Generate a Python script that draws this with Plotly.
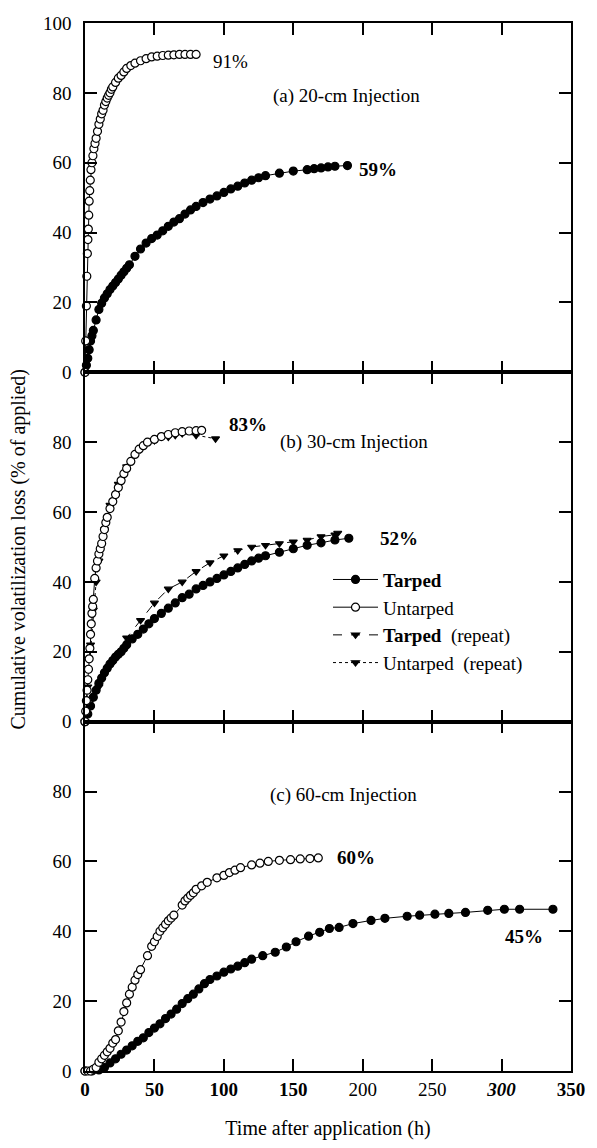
import plotly.graph_objects as go
from plotly.subplots import make_subplots

# ---------------- data ----------------
# (a) 20-cm injection
a_untarped_t = [0, 0.5, 1, 1.3, 1.7, 2.1, 2.4, 2.7, 3, 3.4, 3.8, 4.3, 5, 5.7, 6.4, 7.2, 8, 9, 10, 11, 12, 13, 14, 15,
                16, 17, 18, 19, 20, 22, 24, 26, 28, 30, 33, 36, 40, 44, 48, 52, 56, 60, 64, 68, 72, 76, 80]
a_untarped_y = [0, 9, 19, 27.5, 34, 38, 41, 45, 49, 52, 55, 58, 60, 62, 64, 65.5, 67, 69, 71, 72.5, 74, 75, 76.5,
                77.5, 78.5, 79.3, 80, 81, 81.7, 83, 84.2, 85, 86, 87, 87.8, 88.5, 89.2, 89.8, 90.3, 90.5, 90.7, 90.8,
                90.9, 91, 91, 91, 91]
a_tarped_t = [0, 1, 2, 3, 4, 5, 6, 8, 10, 12, 14, 16, 18, 20, 22, 24, 26, 28, 30, 32, 36, 40, 44, 48, 52, 56, 60,
              64, 68, 72, 76, 80, 85, 90, 95, 100, 105, 110, 115, 120, 125, 130, 140, 150, 160, 165, 170, 175, 180, 189]
a_tarped_y = [0, 2, 4, 6.5, 9, 10.5, 12, 15, 18, 19.8, 21.3, 22.5, 23.7, 24.7, 25.7, 26.7, 27.8, 28.8, 29.8, 30.8,
              33.2, 35.3, 37, 38.3, 39.3, 40.5, 41.8, 43, 44, 45.3, 46.5, 47.5, 48.6, 49.6, 50.5, 51.5, 52.5, 53.3,
              54.2, 55, 55.7, 56.3, 57, 57.6, 58, 58.3, 58.5, 58.8, 59, 59.2]

# (b) 30-cm injection
b_untarped_t = [0, 0.5, 1, 1.5, 2, 2.5, 3, 3.5, 4, 4.5, 5, 5.5, 6, 7, 8, 9, 10, 11, 12, 13, 14, 15, 16, 18, 20, 22,
                24, 26, 28, 30, 33, 36, 39, 42, 45, 50, 55, 60, 65, 70, 75, 80, 84]
b_untarped_y = [0, 3, 6, 9, 12, 15, 18, 21, 25, 28, 31, 33, 35, 41, 44, 46, 48, 49.5, 51, 53, 55, 57, 58.5, 61,
                63, 65, 67, 69, 71, 72.5, 74.5, 76.5, 78, 79, 80, 80.8, 81.6, 82.2, 82.7, 83, 83.2, 83.3, 83.4]
b_untarped_rep_t = [0, 2, 4, 6, 8, 10, 14, 18, 24, 30, 40, 50, 60, 65, 70, 80, 94]
b_untarped_rep_y = [0, 10, 22, 32, 40, 46, 55, 62, 68, 73, 78, 80.5, 81.5, 82, 82.5, 82, 81]
b_tarped_t = [0, 2, 4, 6, 8, 10, 12, 14, 16, 18, 20, 22, 24, 26, 28, 30, 34, 38, 42, 46, 50, 55, 60, 65, 70, 75,
              80, 85, 90, 95, 100, 105, 110, 115, 120, 125, 130, 140, 150, 160, 170, 180, 190]
b_tarped_y = [0, 2.2, 4.5, 7, 9, 11, 12.5, 14, 15.3, 16.5, 17.5, 18.5, 19.3, 20, 21, 22, 23.7, 25, 26.5, 28, 29.5,
              31, 32.5, 34, 35.5, 36.5, 38, 39, 40, 41, 42, 43, 44, 45, 46, 46.8, 47.5, 48.5, 49.5, 50.5, 51.2, 52,
              52.5]
b_tarped_rep_t = [0, 10, 20, 30, 40, 50, 60, 70, 80, 90, 100, 110, 120, 130, 140, 150, 160, 170, 180, 182]
b_tarped_rep_y = [0, 10, 17, 24, 29, 34, 38, 40, 43, 45.5, 47.5, 49, 50, 50.5, 51, 51.5, 52, 53, 53.5, 54]

# (c) 60-cm injection
c_untarped_t = [0, 2, 4, 6, 8, 10, 12, 14, 16, 18, 20, 22, 24, 26, 28, 30, 32, 34, 36, 38, 40, 45, 48, 50, 52, 54,
                56, 58, 60, 62, 64, 70, 72, 74, 76, 78, 80, 84, 88, 95, 100, 104, 108, 112, 120, 126, 132, 140,
                148, 155, 162, 168]
c_untarped_y = [0, 0, 0, 0.5, 1, 2.5, 3.5, 4.5, 5.5, 6.5, 8, 9, 11.5, 14, 17, 19.5, 22, 24, 26, 27.6, 29, 33, 35.7,
                37, 38.5, 40, 41, 42, 43, 43.8, 44.6, 47.5, 48.7, 49.5, 50.3, 51, 52, 53, 54, 55.3, 56, 56.8, 57.5,
                58.2, 59, 59.5, 60, 60.3, 60.5, 60.7, 60.8, 61]
c_tarped_t = [0, 5, 10, 14, 18, 22, 26, 30, 34, 38, 42, 46, 50, 54, 58, 62, 66, 70, 74, 78, 82, 86, 90, 95, 100,
              105, 110, 115, 120, 128, 137, 145, 152, 161, 169, 176, 183, 193, 206, 216, 232, 241, 252, 262, 274,
              290, 302, 313, 337]
c_tarped_y = [0, 0, 0.3, 1, 2.3, 3.5, 4.8, 6, 7.2, 8.5, 9.5, 11, 12.3, 13.5, 15, 16.3, 17.7, 19.3, 20.7, 22, 23.5,
              25, 26.2, 27.2, 28.3, 29.2, 30, 31, 32, 33, 34, 35.5, 37, 38.6, 39.7, 40.8, 41.1, 42.2, 43.1, 43.7,
              44.3, 44.6, 44.9, 45.1, 45.4, 46, 46.3, 46.3, 46.3]

x_tickvals = [0, 50, 100, 150, 200, 250, 300, 350]
x_ticktext = ["<b>0</b>", "<b>50</b>", "<b>100</b>", "<b>150</b>", "200", "250", "<b><i>300</i></b>", "<b>350</b>"]
y_tickvals_top = [0, 20, 40, 60, 80, 100]
y_tickvals = [0, 20, 40, 60, 80]

FONT = "'Liberation Serif', 'Times New Roman', serif"
BLACK = "black"

fig = make_subplots(rows=3, cols=1, shared_xaxes=True, vertical_spacing=0)


def add_series(row, t, y, symbol, dash, name, legend, filled=True, size=8, rank=None):
    fig.add_trace(go.Scatter(
        x=t, y=y, mode="lines+markers", name=name, showlegend=legend, cliponaxis=False,
        legendrank=rank if rank is not None else 1000,
        line=dict(color=BLACK, width=1, dash=dash),
        marker=dict(symbol=symbol, size=size, color=BLACK if filled else "white",
                    line=dict(color=BLACK, width=1.2)),
    ), row=row, col=1)


add_series(1, a_tarped_t, a_tarped_y, "circle", "solid", "a-t", False)
add_series(1, a_untarped_t, a_untarped_y, "circle", "solid", "a-u", False, filled=False)

add_series(2, b_tarped_t, b_tarped_y, "circle", "solid", "<b>Tarped</b>", True, rank=1)
add_series(2, b_tarped_rep_t, b_tarped_rep_y, "triangle-down", "dash", "<b>Tarped</b>  (repeat)", True, size=7,
           rank=3)
add_series(2, b_untarped_rep_t, b_untarped_rep_y, "triangle-down", "dot", "Untarped  (repeat)", True, size=7,
           rank=4)
add_series(2, b_untarped_t, b_untarped_y, "circle", "solid", "Untarped", True, filled=False, rank=2)

add_series(3, c_tarped_t, c_tarped_y, "circle", "solid", "c-t", False)
add_series(3, c_untarped_t, c_untarped_y, "circle", "solid", "c-u", False, filled=False)

for r in (1, 2, 3):
    fig.update_xaxes(range=[0, 350], tickvals=x_tickvals, ticktext=x_ticktext, ticks="inside", ticklen=12,
                     tickwidth=2, tickcolor=BLACK, showline=True, linewidth=1.6, linecolor=BLACK, mirror="ticks",
                     showgrid=False, zeroline=False, row=r, col=1,
                     tickfont=dict(family=FONT, size=19, color=BLACK))
    fig.update_yaxes(range=[0, 100], tickvals=y_tickvals_top if r == 1 else y_tickvals,
                     ticks="inside", ticklen=12, tickwidth=1.5, tickcolor=BLACK, showline=True, linewidth=1.6,
                     linecolor=BLACK, mirror="ticks", showgrid=False, zeroline=False, row=r, col=1,
                     tickfont=dict(family=FONT, size=19, color=BLACK), tickprefix="<b>", ticksuffix="</b>",
                     ticklabelstandoff=8)

fig.update_xaxes(title=dict(text="Time after application (h)", font=dict(family=FONT, size=20, color=BLACK),
                            standoff=22), row=3, col=1)

ann = [
    ("x", "y", 91, 89, "91%", False),
    ("x", "y", 134, 79, "(a) 20-cm Injection", False),
    ("x", "y", 196, 58, "59%", True),
    ("x2", "y2", 102, 85, "83%", True),
    ("x2", "y2", 139, 80, "(b) 30-cm Injection", False),
    ("x2", "y2", 211, 52.5, "52%", True),
    ("x3", "y3", 132, 79, "(c) 60-cm Injection", False),
    ("x3", "y3", 180, 61, "60%", True),
    ("x3", "y3", 301, 38.6, "45%", True),
]
for xr, yr, xv, yv, txt, bold in ann:
    fig.add_annotation(xref=xr, yref=yr, x=xv, y=yv, text=f"<b>{txt}</b>" if bold else txt, showarrow=False,
                       xanchor="left", yanchor="middle",
                       font=dict(family=FONT, size=19, color=BLACK))

fig.add_annotation(xref="paper", yref="paper", x=-0.137, y=0.498, text="Cumulative volatilization loss (% of applied)",
                   textangle=-90, showarrow=False, xanchor="center", yanchor="middle",
                   font=dict(family=FONT, size=20, color=BLACK))

fig.update_layout(
    width=597, height=1148, margin=dict(l=85, r=22, t=23, b=73),
    paper_bgcolor="white", plot_bgcolor="white",
    font=dict(family=FONT, color=BLACK),
    legend=dict(x=0.5, y=0.487, xanchor="left", yanchor="top", bgcolor="rgba(0,0,0,0)",
                font=dict(family=FONT, size=19, color=BLACK), tracegroupgap=0, itemwidth=45),
)

fig.write_html("out.html")
